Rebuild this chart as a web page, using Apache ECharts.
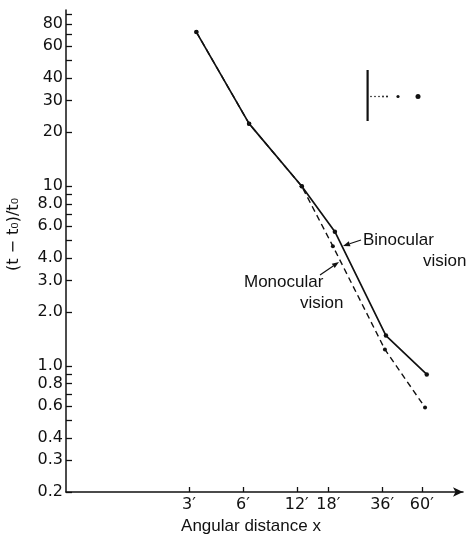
<!DOCTYPE html>
<html>
<head>
<meta charset="utf-8">
<script src="https://cdn.jsdelivr.net/npm/echarts@6/dist/echarts.min.js"></script>
<style>
html, body { margin: 0; padding: 0; background: #fff; }
#chart { width: 473px; height: 534px; }
</style>
</head>
<body>
<div id="chart"></div>
<script>
// angular distance (minutes of arc), log axis
var xTicks = [3, 6, 12, 18, 36, 60];
var xTickLabels = ['3\u2032', '6\u2032', '12\u2032', '18\u2032', '36\u2032', '60\u2032'];

// (t - t0)/t0, log axis
var yTicks = [0.2, 0.3, 0.4, 0.5, 0.6, 0.7, 0.8, 0.9,
              1, 2, 3, 4, 5, 6, 7, 8, 9,
              10, 20, 30, 40, 50, 60, 70, 80, 90];
var yLabelValues = [0.2, 0.3, 0.4, 0.6, 0.8, 1, 2, 3, 4, 6, 8, 10, 20, 30, 40, 60, 80];
var yTickLabels = ['0.2', '0.3', '0.4', '0.6', '0.8', '1.0', '2.0', '3.0', '4.0',
                   '6.0', '8.0', '10', '20', '30', '40', '60', '80'];

var binocX = [3.3, 6.5, 12.8, 19.6, 37.8, 63.9];
var binocY = [72, 22.3, 10, 5.6, 1.48, 0.9];
var monoX = [3.3, 6.5, 12.8, 19.1, 37.3, 62.5];
var monoY = [72, 22.3, 10, 4.65, 1.24, 0.59];

var lg = Math.log10;
function pairs(xs, ys) {
    return xs.map(function (x, i) { return [lg(x), lg(ys[i])]; });
}
function lookup(vals, labels, v) {
    for (var i = 0; i < vals.length; i++) {
        if (Math.abs(lg(vals[i]) - v) < 1e-6) return labels[i];
    }
    return '';
}
function arrow(x1, y1, x2, y2) {
    var a = Math.atan2(y2 - y1, x2 - x1), L = 7, w = 2.6;
    var bx = x2 - L * Math.cos(a), by = y2 - L * Math.sin(a);
    return [
        { type: 'line', shape: { x1: x1, y1: y1, x2: bx, y2: by }, style: { stroke: '#111', lineWidth: 1.2 } },
        { type: 'polygon', shape: { points: [[x2, y2],
            [bx + w * Math.sin(a), by - w * Math.cos(a)],
            [bx - w * Math.sin(a), by + w * Math.cos(a)]] }, style: { fill: '#111' } }
    ];
}

var ink = '#111';
var tickFont = { color: ink, fontSize: 16, fontFamily: 'DejaVu Sans' };
var noteFont = { fill: ink, fontSize: 17, fontFamily: 'Liberation Sans' };

var myChart = echarts.init(document.getElementById('chart'));

var graphics = [
    { type: 'text', left: 363, top: 232, style: Object.assign({ text: 'Binocular' }, noteFont) },
    { type: 'text', left: 423, top: 253, style: Object.assign({ text: 'vision' }, noteFont) },
    { type: 'text', left: 244, top: 274, style: Object.assign({ text: 'Monocular' }, noteFont) },
    { type: 'text', left: 300, top: 295, style: Object.assign({ text: 'vision' }, noteFont) },
    { type: 'rect', shape: { x: 366.5, y: 70, width: 2.2, height: 51 }, style: { fill: ink } }
];
graphics = graphics.concat(arrow(361, 240, 343, 246), arrow(320, 275, 339, 262));
[[371, 0.8], [375, 0.8], [379, 0.8], [383, 0.9], [387, 1], [398, 1.6], [418, 2.5]].forEach(function (d) {
    graphics.push({ type: 'circle', shape: { cx: d[0], cy: 96.5, r: d[1] }, style: { fill: ink } });
});

option = {
    animation: false,
    backgroundColor: '#fff',
    grid: { left: 66, right: 10, top: 10, bottom: 42, outerBoundsMode: 'none' },
    xAxis: {
        type: 'value',
        min: -0.21,
        max: 2.008,
        name: 'Angular distance x',
        nameLocation: 'middle',
        nameGap: 22,
        nameTextStyle: { color: ink, fontSize: 17, fontFamily: 'Liberation Sans', padding: [0, 27, 0, 0] },
        axisLine: { onZero: false, lineStyle: { color: ink, width: 1.5 }, symbol: ['none', 'arrow'], symbolSize: [7, 10] },
        axisTick: { inside: true, length: 5, lineStyle: { color: ink, width: 1.3 },
                    customValues: xTicks.map(lg) },
        axisLabel: Object.assign({ margin: 5, customValues: xTicks.map(lg),
            formatter: function (v) { return lookup(xTicks, xTickLabels, v); } }, tickFont),
        splitLine: { show: false }
    },
    yAxis: {
        type: 'value',
        min: lg(0.2),
        max: 1.98,
        name: '(t \u2212 t\u2080)/t\u2080',
        nameLocation: 'middle',
        nameRotate: 90,
        nameGap: 44,
        nameTextStyle: { color: ink, fontSize: 16, fontFamily: 'DejaVu Sans', padding: [0, 0, 0, 33] },
        axisLine: { onZero: false, lineStyle: { color: ink, width: 1.5 } },
        axisTick: { inside: true, length: 6, lineStyle: { color: ink, width: 1.3 },
                    customValues: yTicks.map(lg) },
        axisLabel: Object.assign({ margin: 3, customValues: yLabelValues.map(lg),
            formatter: function (v) { return lookup(yLabelValues, yTickLabels, v); } }, tickFont),
        splitLine: { show: false }
    },
    series: [
        {
            name: 'Monocular vision',
            type: 'line',
            data: pairs(monoX, monoY),
            symbol: 'circle',
            symbolSize: 4,
            itemStyle: { color: ink },
            lineStyle: { color: ink, width: 1.4, type: [6, 4] }
        },
        {
            name: 'Binocular vision',
            type: 'line',
            data: pairs(binocX, binocY),
            symbol: 'circle',
            symbolSize: 4.5,
            itemStyle: { color: ink },
            lineStyle: { color: ink, width: 1.7 }
        }
    ],
    graphic: graphics
};
myChart.setOption(option);
window.addEventListener('resize', function () { myChart.resize(); });
</script>
</body>
</html>
